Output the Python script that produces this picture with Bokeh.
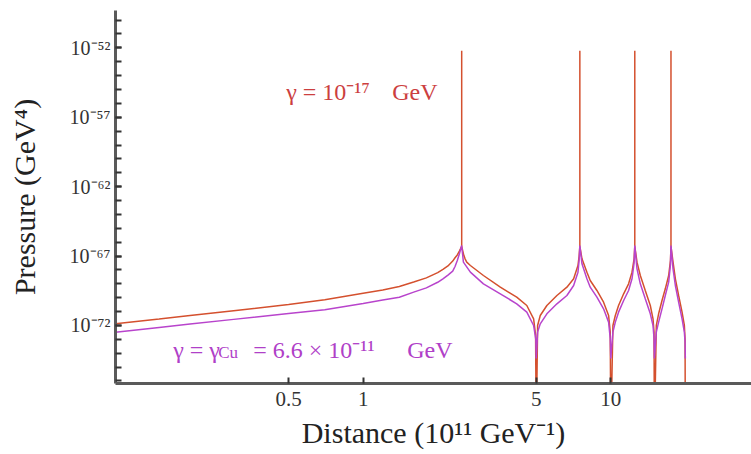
from bokeh.plotting import figure
from bokeh.models import FixedTicker, Label
from bokeh.embed import file_html
from bokeh.resources import INLINE

# ---- data ----
red_x = [0.1, 0.15, 0.2, 0.3, 0.5, 0.7, 1.0, 1.2, 1.4, 1.6, 1.8, 2.0, 2.1, 2.2, 2.3, 2.35, 2.4, 2.45,
         2.5, 2.5, 2.5,
         2.55, 2.58, 2.62, 2.71, 3.06, 3.58, 4.17, 4.58, 4.88, 4.97, 5.0,
         5.064, 5.19, 5.52, 6.06, 6.65, 7.08, 7.37, 7.45, 7.5, 7.5, 7.5,
         7.65, 8.01, 8.26, 8.79, 9.35, 9.80, 9.95, 10.0,
         10.2, 10.43, 10.75, 11.27, 11.80, 12.18, 12.42, 12.5, 12.5, 12.5,
         12.76, 13.16, 13.78, 14.44, 14.81, 14.95, 15.0,
         15.27, 15.6, 16.1, 16.6, 17.13, 17.42, 17.5, 17.5, 17.5,
         17.84, 18.23, 18.79, 19.40, 19.82, 19.95, 20.0]
red_p = [1.32e-72, 2.88e-72, 5.13e-72, 1.15e-71, 3.24e-71, 7.24e-71, 2.09e-70, 3.55e-70, 6.5e-70,
         1.35e-69, 2.69e-69, 6.46e-69, 1.10e-68, 1.95e-68, 4.37e-68, 7.59e-68, 1.20e-67, 2.34e-67,
         5.01e-67, 6.3e-53, 5.01e-67,
         1.12e-67, 6.31e-68, 3.63e-68, 2.09e-68, 3.98e-69, 5.75e-70, 1.10e-70, 2.75e-71, 3.02e-72, 2.0e-73, 1e-80,
         1e-72, 5.25e-72, 2.75e-71, 1.45e-70, 5.75e-70, 2.29e-69, 2.09e-68, 1.0e-67, 5.01e-67, 6.3e-53, 5.01e-67,
         6.31e-68, 6.92e-69, 1.74e-69, 3.31e-70, 4.79e-71, 5.25e-72, 3.31e-73, 1e-80,
         1e-72, 5.25e-72, 2.75e-71, 1.91e-70, 1e-69, 6.92e-69, 6.31e-68, 5.01e-67, 6.3e-53, 5.01e-67,
         3.63e-68, 3.98e-69, 3.31e-70, 2.75e-71, 3.02e-72, 3.31e-73, 1e-80,
         1e-72, 6.92e-72, 6.31e-71, 4.37e-70, 3.98e-69, 5.01e-68, 5.01e-67, 6.3e-53, 5.01e-67,
         3.63e-68, 2.29e-69, 1.45e-70, 9.12e-72, 1e-72, 1e-73, 1e-80]

purple_x = [0.1, 0.15, 0.2, 0.3, 0.5, 0.7, 1.0, 1.2, 1.4, 1.6, 1.8, 2.0, 2.1, 2.2, 2.3, 2.35, 2.4, 2.45, 2.5,
            2.54, 2.71, 3.06, 3.58, 4.17, 4.58, 4.88, 4.98, 5.0,
            5.064, 5.19, 5.52, 6.06, 6.65, 7.08, 7.37, 7.45, 7.5,
            7.65, 8.01, 8.26, 8.79, 9.35, 9.80, 9.95, 10.0,
            10.2, 10.43, 10.75, 11.27, 11.80, 12.18, 12.42, 12.5,
            12.76, 13.16, 13.78, 14.44, 14.81, 14.95, 15.0,
            15.27, 15.6, 16.1, 16.6, 17.13, 17.42, 17.5,
            17.84, 18.23, 18.79, 19.40, 19.82, 19.95, 20.0]
purple_p = [3.31e-73, 7.24e-73, 1.26e-72, 2.75e-72, 7.41e-72, 1.38e-71, 3.89e-71, 6.76e-71, 1.07e-70,
            2.51e-70, 5.13e-70, 1.29e-69, 2.29e-69, 4.27e-69, 8.13e-69, 1.78e-68, 4.79e-68, 1.55e-67, 5.75e-67,
            3.63e-68, 6.92e-69, 1e-69, 1.91e-70, 3.63e-71, 9.12e-72, 1e-72, 1e-73, 4.17e-75,
            3.31e-73, 1.32e-72, 6.92e-72, 3.63e-71, 1.45e-70, 7.59e-70, 6.92e-69, 5.01e-68, 5.75e-67,
            2.75e-68, 2.29e-69, 5.75e-70, 1.10e-70, 1.58e-71, 1.74e-72, 1.10e-73, 4.17e-75,
            3.31e-73, 1.74e-72, 9.12e-72, 6.31e-71, 3.31e-70, 2.29e-69, 3.16e-68, 5.75e-67,
            1.20e-68, 1e-69, 8.32e-71, 6.92e-72, 1e-72, 1.10e-73, 4.17e-75,
            3.31e-73, 1.74e-72, 1.58e-71, 1.45e-70, 1.32e-69, 2.51e-68, 5.75e-67,
            1.20e-68, 7.59e-70, 4.79e-71, 3.02e-72, 3.31e-73, 6.31e-74, 4.17e-75]

x_tick_values = [0.5, 1, 5, 10]
x_tick_labels = ["0.5", "1", "5", "10"]
y_tick_values = [1e-72, 1e-67, 1e-62, 1e-57, 1e-52]
y_tick_labels = ["10⁻⁷²", "10⁻⁶⁷", "10⁻⁶²", "10⁻⁵⁷", "10⁻⁵²"]
y_minor_values = [1e-76, 1e-75, 1e-74, 1e-73, 1e-72, 1e-71, 1e-70, 1e-69, 1e-68, 1e-67, 1e-66,
                  1e-65, 1e-64, 1e-63, 1e-62, 1e-61, 1e-60, 1e-59, 1e-58, 1e-57, 1e-56, 1e-55,
                  1e-54, 1e-53, 1e-52, 1e-51, 1e-50]

red_label = "γ = 10⁻¹⁷"
red_label_unit = "GeV"
purple_label_a = "γ = γ"
purple_label_sub = "Cu"
purple_label_b = "= 6.6 × 10⁻¹¹"
purple_label_unit = "GeV"

RED = "#d4502e"
PURPLE = "#b844cc"
RED_TEXT = "#cc3f3f"
PURPLE_TEXT = "#b040c8"
SERIF = "Liberation Serif"

p = figure(width=751, height=454, x_axis_type="log", y_axis_type="log",
           x_range=(0.1, 37), y_range=(6.6e-77, 4.9e-50),
           output_backend="svg", toolbar_location=None,
           min_border_left=115, min_border_right=0, min_border_top=10, min_border_bottom=71)
p.outline_line_color = None
p.xgrid.visible = False
p.ygrid.visible = False
p.background_fill_color = "white"
p.border_fill_color = "white"

p.line(red_x, red_p, line_color=RED, line_width=1.5)
p.line(purple_x, purple_p, line_color=PURPLE, line_width=1.5)

# axes
for ax in (p.xaxis[0], p.yaxis[0]):
    ax.axis_line_color = "#5a5a5a"
    ax.axis_line_width = 3
    ax.major_tick_line_color = "#333333"
    ax.major_tick_line_width = 2
    ax.major_tick_in = 6
    ax.major_tick_out = 0
    ax.major_label_text_font = SERIF
    ax.major_label_text_color = "#333333"
    ax.axis_label_text_font = SERIF
    ax.axis_label_text_font_style = "normal"
    ax.axis_label_text_color = "#222222"
    ax.axis_label_text_font_size = "30px"

p.xaxis.ticker = FixedTicker(ticks=x_tick_values)
p.xaxis.major_label_overrides = dict(zip(x_tick_values, x_tick_labels))
p.xaxis.minor_tick_line_color = None
p.xaxis.major_label_text_font_size = "21px"
p.xaxis.major_label_standoff = 8
p.xaxis.axis_label = "Distance (10¹¹ GeV⁻¹)"
p.xaxis.axis_label_standoff = 7

p.yaxis.ticker = FixedTicker(ticks=y_tick_values, minor_ticks=y_minor_values)
p.yaxis.major_label_overrides = dict(zip(y_tick_values, y_tick_labels))
p.yaxis.minor_tick_line_color = "#333333"
p.yaxis.minor_tick_line_width = 2
p.yaxis.minor_tick_in = 6
p.yaxis.minor_tick_out = 0
p.yaxis.major_label_text_font_size = "20px"
p.yaxis.major_label_standoff = 5
p.yaxis.axis_label = "Pressure (GeV⁴)"
p.yaxis.axis_label_standoff = 26

# annotations (pieces placed with pixel offsets to mimic math spacing)
def add_text(x, y, text, color, size, dx=0, dy=0):
    p.add_layout(Label(x=x, y=y, x_offset=dx, y_offset=dy, text=text, text_color=color,
                       text_font=SERIF, text_font_size=size, text_baseline="alphabetic"))

add_text(0.489, 7.1e-56, red_label, RED_TEXT, "24px")
add_text(0.489, 7.1e-56, red_label_unit, RED_TEXT, "24px", dx=106)
add_text(0.171, 1.78e-74, purple_label_a, PURPLE_TEXT, "24px")
add_text(0.171, 1.78e-74, purple_label_sub, PURPLE_TEXT, "17px", dx=45, dy=-3)
add_text(0.171, 1.78e-74, purple_label_b, PURPLE_TEXT, "24px", dx=80)
add_text(0.171, 1.78e-74, purple_label_unit, PURPLE_TEXT, "24px", dx=234)

open("out.html", "w").write(file_html(p, INLINE))
